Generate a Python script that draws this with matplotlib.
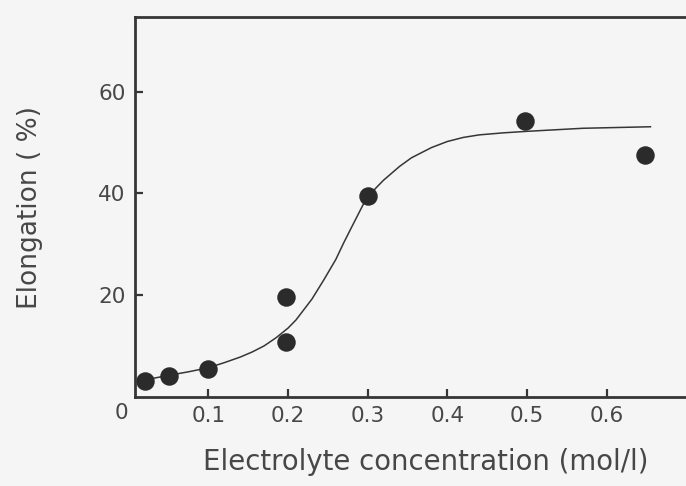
import matplotlib
matplotlib.use("Agg")
import matplotlib.pyplot as plt

plt.rcParams['font.family'] = ['DejaVu Sans']

# measured elongation vs. electrolyte concentration
conc = [0.02, 0.05, 0.10, 0.198, 0.198, 0.30, 0.497, 0.648]
elong = [3.1, 4.1, 5.4, 19.7, 10.8, 39.4, 54.3, 47.6]

# hand-drawn trend curve through the data
curve_x = [0.012, 0.03, 0.05, 0.075, 0.10, 0.12, 0.14, 0.155, 0.17, 0.185,
           0.20, 0.21, 0.23, 0.245, 0.26, 0.27, 0.28, 0.295, 0.31, 0.32,
           0.34, 0.355, 0.38, 0.40, 0.42, 0.44, 0.47, 0.50, 0.57, 0.655]
curve_y = [2.9, 3.6, 4.2, 4.9, 5.7, 6.7, 7.8, 8.8, 10.0, 11.6,
           13.5, 15.1, 19.2, 23.0, 27.0, 30.3, 33.4, 38.0, 41.0, 42.6,
           45.3, 47.0, 49.0, 50.2, 51.0, 51.5, 51.9, 52.2, 52.8, 53.1]

xticks = [0.1, 0.2, 0.3, 0.4, 0.5, 0.6]
yticks = [20, 40, 60]

ink = '#363636'
txt = '#474747'
paper = '#f5f5f5'

fig = plt.figure(figsize=(6.86, 4.86), dpi=100, facecolor=paper)
ax = fig.add_axes([0.1975, 0.1837, 0.8235, 0.7804])
ax.set_facecolor(paper)

ax.plot(curve_x, curve_y, color=ink, lw=1.1)
ax.plot(conc, elong, 'o', color='#2b2b2b', ms=12.3, mec='#2b2b2b')

ax.set_xlim(0.0085, 0.7177)
ax.set_ylim(0, 74.6)
ax.set_xticks(xticks)
ax.set_xticklabels([f'{v:.1f}' for v in xticks])
ax.set_yticks(yticks)
ax.set_yticklabels([str(v) for v in yticks])

for s in ax.spines.values():
    s.set_color(ink)
    s.set_linewidth(2.0)
ax.spines['right'].set_visible(False)

ax.tick_params(direction='in', length=6, width=1.6, color=ink,
               labelsize=15.5, labelcolor=txt, pad=7)

# origin label at the corner
ax.text(0.0, -1.3, '0', ha='right', va='top', fontsize=15.5,
        color=txt, clip_on=False)

ax.set_xlabel('Electrolyte concentration (mol/l)', fontsize=19.8,
              color=txt)
ax.xaxis.set_label_coords(0.514, -0.136)
ax.set_ylabel('Elongation ( %)', fontsize=19, color=txt, labelpad=40)

fig.savefig('out.png', dpi=100, facecolor=paper)
